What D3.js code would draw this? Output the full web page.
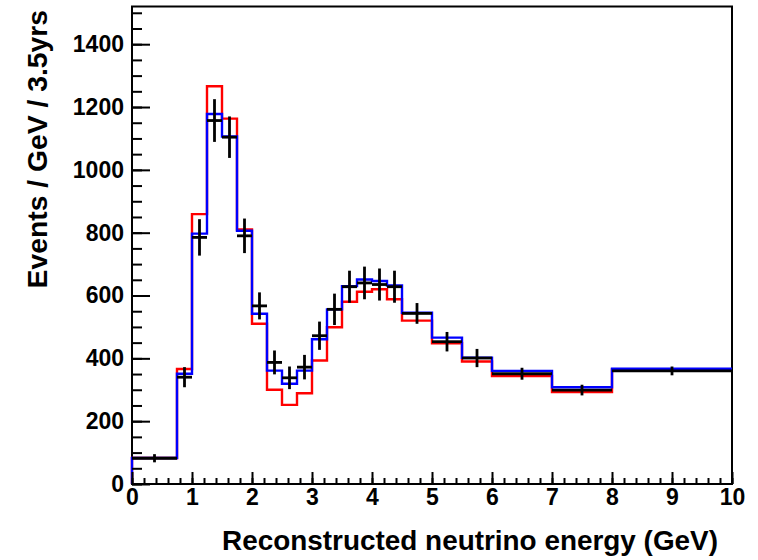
<!DOCTYPE html>
<html>
<head>
<meta charset="utf-8">
<script src="https://cdn.jsdelivr.net/npm/d3@7"></script>
<style>
  html, body { margin: 0; padding: 0; background: #fff; }
  svg text { font-family: "Liberation Sans", Arial, Helvetica, sans-serif; font-weight: bold; fill: #000; }
</style>
</head>
<body>
<svg id="chart" width="758" height="560"></svg>
<script>
// Bin edges of the reconstructed-energy histogram (GeV)
const binEdges = [0, 0.75, 1, 1.25, 1.5, 1.75, 2, 2.25, 2.5, 2.75, 3, 3.25, 3.5, 3.75, 4, 4.25, 4.5, 5, 5.5, 6, 7, 8, 10];

// Red prediction (events / GeV)
const redValues = [83, 366, 859, 1266, 1163, 810, 510, 300, 252, 289, 393, 499, 580, 612, 620, 588, 520, 448, 390, 344, 293, 365];

// Blue prediction (events / GeV)
const blueValues = [83, 351, 797, 1178, 1106, 806, 542, 361, 319, 361, 461, 556, 630, 651, 646, 632, 545, 466, 402, 360, 308, 367];

// Simulated data points and their statistical errors
const dataValues = [82, 340, 785, 1157, 1104, 790, 567, 387, 338, 372, 472, 556, 628, 640, 635, 628, 543, 453, 401, 351, 299, 360];
const dataErrors = [13, 32, 58, 68, 66, 55, 43, 38, 36, 39, 45, 50, 51, 52, 51, 51, 33, 31, 29, 19, 17, 14];

// Axis ticks
const xTicks = [0, 1, 2, 3, 4, 5, 6, 7, 8, 9, 10];
const yTicks = [0, 200, 400, 600, 800, 1000, 1200, 1400];

const svg = d3.select("#chart");

const x = d3.scaleLinear().domain([0, 10]).range([132, 732]);
const y = d3.scaleLinear().domain([0, 1520]).range([484, 6.5]);

// Frame (drawn first so the histogram edges sit on top of it)
svg.append("rect")
  .attr("x", x(0)).attr("y", y(1520))
  .attr("width", x(10) - x(0)).attr("height", y(0) - y(1520))
  .attr("fill", "none").attr("stroke", "#000").attr("stroke-width", 2);

// Step outline of a histogram, rising from the baseline at the first edge
function stepPoints(values) {
  const pts = [[binEdges[0], 0]];
  values.forEach((v, i) => {
    pts.push([binEdges[i], v]);
    pts.push([binEdges[i + 1], v]);
  });
  return pts;
}

const line = d3.line().x(d => x(d[0])).y(d => y(d[1]));

const plot = svg.append("g");

plot.append("path")
  .attr("d", line(stepPoints(redValues)))
  .attr("fill", "none")
  .attr("stroke", "#ff0000")
  .attr("stroke-width", 2.4);

plot.append("path")
  .attr("d", line(stepPoints(blueValues)))
  .attr("fill", "none")
  .attr("stroke", "#0000ff")
  .attr("stroke-width", 2.4);

// Data: horizontal bar across the bin, vertical error bar at the bin centre
const bins = dataValues.map((v, i) => ({
  lo: binEdges[i], hi: binEdges[i + 1], v: v, e: dataErrors[i]
}));

const dataG = plot.append("g").attr("stroke", "#000").attr("stroke-width", 2.8);
dataG.selectAll("line.h").data(bins).join("line")
  .attr("class", "h")
  .attr("x1", d => x(d.lo)).attr("x2", d => x(d.hi))
  .attr("y1", d => y(d.v)).attr("y2", d => y(d.v));
dataG.selectAll("line.v").data(bins).join("line")
  .attr("class", "v")
  .attr("x1", d => x((d.lo + d.hi) / 2)).attr("x2", d => x((d.lo + d.hi) / 2))
  .attr("y1", d => y(d.v - d.e)).attr("y2", d => y(d.v + d.e));

// Axes with inward ticks
const yMajor = d3.axisLeft(y).tickValues(yTicks).tickSize(-18).tickPadding(8).tickFormat(d3.format("d"));
const yMinor = d3.axisLeft(y).tickValues(d3.range(0, 1520, 50)).tickSize(-10).tickFormat("");
const xMajor = d3.axisBottom(x).tickValues(xTicks).tickSize(-12).tickPadding(5).tickFormat(d3.format("d"));
const xMinor = d3.axisBottom(x).tickValues(d3.range(0, 10.001, 0.2)).tickSize(-6).tickFormat("");

function styleAxis(g) {
  g.select(".domain").remove();
  g.selectAll(".tick line").attr("stroke", "#000").attr("stroke-width", 2);
  g.selectAll(".tick text").attr("font-size", 23).attr("font-family", null);
}

svg.append("g").attr("transform", "translate(132,0)").call(yMinor).call(styleAxis);
svg.append("g").attr("transform", "translate(132,0)").call(yMajor).call(styleAxis);
svg.append("g").attr("transform", "translate(0,484)").call(xMinor).call(styleAxis);
svg.append("g").attr("transform", "translate(0,484)").call(xMajor).call(styleAxis);

// Axis titles
svg.append("text")
  .attr("x", 718).attr("y", 550)
  .attr("text-anchor", "end")
  .attr("font-size", 27.9)
  .text("Reconstructed neutrino energy (GeV)");

svg.append("text")
  .attr("transform", "translate(47,10) rotate(-90)")
  .attr("text-anchor", "end")
  .attr("font-size", 28.3)
  .text("Events / GeV / 3.5yrs");
</script>
</body>
</html>
